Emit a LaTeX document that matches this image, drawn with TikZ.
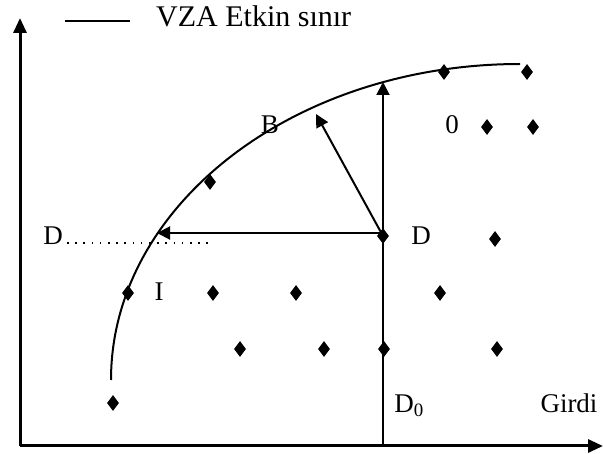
\documentclass[tikz,border=0pt]{standalone}
\usepackage{fontspec}
\setmainfont{Liberation Serif}
\usetikzlibrary{arrows.meta,shapes.geometric}
\begin{document}
\begin{tikzpicture}[x=1pt,y=1pt,
  pt/.style={diamond,fill=black,draw=none,inner sep=0pt,minimum width=12pt,minimum height=16pt},
  lbl/.style={inner sep=0pt,font=\fontsize{27}{30}\selectfont},
  axis/.style={line width=3pt,-{Triangle[length=15pt,width=13pt]}},
  arr/.style={line width=2pt,-{Triangle[length=13pt,width=13pt]}},
  frontier/.style={line width=2pt}]
\useasboundingbox (0,0) rectangle (603,-454);
% axes
\coordinate (O) at (20,-446);
\coordinate (ytop) at (20,-18);
\coordinate (xend) at (603,-446);
\draw[axis] (O) -- (ytop);
\draw[axis] (O) -- (xend);
% legend
\coordinate (lg1) at (65,-21);
\coordinate (lg2) at (130,-21);
\draw[line width=2pt] (lg1) -- (lg2);
\node[lbl,anchor=base west,font=\fontsize{30}{32}\selectfont] (legend) at (156,-27) {VZA Etkin sınır};
% frontier
\draw[frontier] (111,-380) arc[start angle=180,end angle=90,x radius=409pt,y radius=316pt];
% points
\node[pt] (p1) at (444,-72) {};
\node[pt] (p2) at (527,-72) {};
\node[pt] (p3) at (487,-127) {};
\node[pt] (p4) at (533,-127) {};
\node[pt] (p5) at (210,-182) {};
\node[pt] (Dp) at (383,-236) {};
\node[pt] (p6) at (495,-239) {};
\node[pt] (p7) at (128,-293) {};
\node[pt] (p8) at (213,-293) {};
\node[pt] (p9) at (296,-293) {};
\node[pt] (p10) at (440,-293) {};
\node[pt] (p11) at (240,-349) {};
\node[pt] (p12) at (324,-349) {};
\node[pt] (p13) at (384,-349) {};
\node[pt] (p14) at (497,-349) {};
\node[pt] (p15) at (113,-403) {};
% labels
\node[lbl] (lB) at (270,-125) {B};
\node[lbl] (l0) at (452,-125) {0};
\node[lbl] (lD) at (421,-236) {D};
\node[lbl] (lDl) at (53,-236) {D};
\node[lbl] (lI) at (159,-292) {I};
\node[lbl,anchor=base] (lD0) at (409,-413) {D\textsubscript{0}};
\node[lbl,anchor=base] (lG) at (569,-413) {Girdi};
% arrows
\coordinate (xb) at (383,-446);
\coordinate (top) at (383,-82);
\coordinate (btip) at (316,-114);
\coordinate (ltip) at (157,-233);
\coordinate (dotend) at (210,-243);
\coordinate (dotstart) at (67,-243);
\draw[arr] (xb) -- (top);
\draw[arr] (Dp.center) -- (btip);
\draw[arr] (383,-233) -- (ltip);
\draw[line width=1.6pt,dash pattern=on 1.6pt off 6.6pt] (dotstart) -- (dotend);
\end{tikzpicture}
\end{document}
